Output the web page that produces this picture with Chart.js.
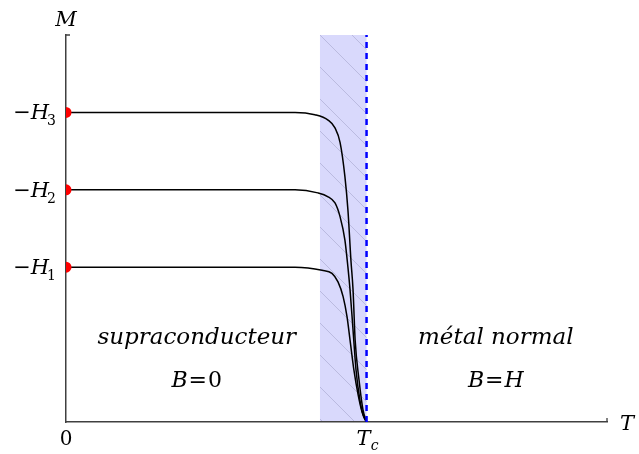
<!DOCTYPE html>
<html><head><meta charset="utf-8">
<script src="https://cdn.jsdelivr.net/npm/chart.js@4/dist/chart.umd.min.js"></script>
<style>html,body{margin:0;padding:0;background:#fff;overflow:hidden}</style>
</head><body>
<canvas id="c" width="639" height="454"></canvas>
<script>
// ---- data (T in units of Tc, M in arbitrary units) ----
const fieldLevels = [2, 3, 4];            // -H1, -H2, -H3
const fieldSubs = ['1', '2', '3'];
const T1 = [0, 0.762, 0.852, 0.885, 0.905, 0.922, 0.935, 0.945, 0.958, 0.972, 0.985, 1.0];
const M1 = [2, 2, 1.96, 1.92, 1.81, 1.62, 1.36, 1.06, 0.67, 0.35, 0.13, 0];
const T2 = [0, 0.762, 0.838, 0.872, 0.895, 0.912, 0.928, 0.938, 0.945, 0.955, 0.965, 0.978, 0.991, 1.0];
const M2 = [3, 3, 2.96, 2.91, 2.83, 2.65, 2.35, 2.0, 1.71, 1.19, 0.67, 0.28, 0.06, 0];
const T3 = [0, 0.762, 0.828, 0.872, 0.895, 0.912, 0.928, 0.938, 0.948, 0.955, 0.962, 0.975, 0.988, 1.0];
const M3 = [4, 4, 3.97, 3.90, 3.80, 3.61, 3.17, 2.74, 2.09, 1.71, 1.06, 0.54, 0.16, 0];
const Tc = 1.0;
const bandStart = 0.845;
const xRange = [0, 1.8];
const yRange = [0, 5];
const regionNames = ['supraconducteur', 'métal normal'];
const regionFields = [['B', '=', '0'], ['B', '=', 'H']];

const pts = (xs, ys) => xs.map((x, i) => ({x, y: ys[i]}));
const SERIF = '"DejaVu Serif", serif';

const bandPlugin = {
  id: 'band',
  beforeDraw(chart) {
    const {ctx, chartArea: a, scales: {x}} = chart;
    ctx.save();
    ctx.fillStyle = '#fff';
    ctx.fillRect(0, 0, chart.width, chart.height);
    const x0 = x.getPixelForValue(bandStart), x1 = x.getPixelForValue(Tc);
    ctx.fillStyle = '#d9d9fc';
    ctx.fillRect(x0, a.top, x1 - x0, a.bottom - a.top);
    ctx.beginPath();
    ctx.rect(x0, a.top, x1 - x0, a.bottom - a.top);
    ctx.clip();
    ctx.strokeStyle = 'rgba(120,120,160,0.4)';
    ctx.lineWidth = 0.8;
    for (let k = -20; k < 30; k++) {
      const yy = a.top + k * 32;
      ctx.beginPath();
      ctx.moveTo(x0, yy);
      ctx.lineTo(x0 + 400, yy + 400);
      ctx.stroke();
    }
    ctx.restore();
  },
  afterDraw(chart) {
    const {ctx, chartArea: a, scales: {x, y}} = chart;
    ctx.save();
    // axis end stubs
    ctx.strokeStyle = '#404040';
    ctx.lineWidth = 1.3;
    ctx.beginPath();
    ctx.moveTo(a.left, a.top); ctx.lineTo(a.left + 4, a.top);
    ctx.moveTo(a.right, a.bottom); ctx.lineTo(a.right, a.bottom - 4);
    ctx.stroke();
    ctx.fillStyle = '#000';
    ctx.textBaseline = 'alphabetic';
    // y tick labels -H_i
    fieldLevels.forEach((v, i) => {
      const py = y.getPixelForValue(v);
      const fMain = '21px ' + SERIF, fIt = 'italic 21px ' + SERIF, fSub = '14px ' + SERIF;
      ctx.font = fMain; const wm = ctx.measureText('\u2212').width;
      ctx.font = fIt; const wh = ctx.measureText('H').width;
      ctx.font = fSub; const ws = ctx.measureText(fieldSubs[i]).width;
      let sx = a.left - 10 - (wm + wh + ws - 2);
      const base = py + 7;
      ctx.font = fMain; ctx.textAlign = 'left'; ctx.fillText('\u2212', sx, base); sx += wm;
      ctx.font = fIt; ctx.fillText('H', sx, base); sx += wh - 2;
      ctx.font = fSub; ctx.fillText(fieldSubs[i], sx, base + 6);
    });
    // axis names
    ctx.font = 'italic 21px ' + SERIF;
    ctx.textAlign = 'center';
    ctx.fillText('M', a.left, a.top - 9);
    ctx.textAlign = 'left';
    ctx.fillText('T', a.right + 13, a.bottom + 8);
    // 0 and Tc
    ctx.textAlign = 'center';
    ctx.font = '20px ' + SERIF;
    ctx.fillText('0', x.getPixelForValue(0), a.bottom + 23);
    const tcx = x.getPixelForValue(Tc);
    ctx.font = 'italic 21px ' + SERIF;
    ctx.fillText('T', tcx - 3, a.bottom + 23);
    ctx.font = 'italic 14px ' + SERIF;
    ctx.fillText('c', tcx + 8, a.bottom + 28);
    // region labels
    const centers = [x.getPixelForValue(0.435), x.getPixelForValue(1.43)];
    centers.forEach((cx, i) => {
      ctx.font = 'italic 23px ' + SERIF;
      ctx.textAlign = 'center';
      ctx.fillText(regionNames[i], cx, y.getPixelForValue(1.1) + 7);
      const parts = regionFields[i];
      const fonts = ['italic 22px ' + SERIF, '22px ' + SERIF, (parts[2] === 'H' ? 'italic ' : '') + '22px ' + SERIF];
      const ws = parts.map((p, j) => { ctx.font = fonts[j]; return ctx.measureText(p).width; });
      const gap = 1;
      let sx = cx - (ws[0] + ws[1] + ws[2] + 2 * gap) / 2;
      const base = y.getPixelForValue(0.56) + 8;
      ctx.textAlign = 'left';
      parts.forEach((p, j) => { ctx.font = fonts[j]; ctx.fillText(p, sx, base); sx += ws[j] + gap; });
    });
    ctx.restore();
  }
};

new Chart(document.getElementById('c'), {
  type: 'line',
  data: {
    datasets: [
      { data: fieldLevels.map(v => ({x: 0, y: v})), showLine: false, pointRadius: 5.5,
        pointBackgroundColor: '#ff0000', pointBorderWidth: 0, borderColor: '#ff0000' },
      { data: [{x: Tc, y: yRange[0]}, {x: Tc, y: yRange[1]}], borderColor: '#0000ff',
        borderWidth: 2.5, borderDash: [6, 5], pointRadius: 0 },
      { data: pts(T1, M1), borderColor: '#000', borderWidth: 1.5, pointRadius: 0, cubicInterpolationMode: 'monotone' },
      { data: pts(T2, M2), borderColor: '#000', borderWidth: 1.5, pointRadius: 0, cubicInterpolationMode: 'monotone' },
      { data: pts(T3, M3), borderColor: '#000', borderWidth: 1.5, pointRadius: 0, cubicInterpolationMode: 'monotone' }
    ]
  },
  options: {
    responsive: false, animation: false, devicePixelRatio: 1,
    layout: { padding: { left: 66, right: 32, top: 35, bottom: 32 } },
    plugins: { legend: { display: false }, tooltip: { enabled: false } },
    scales: {
      x: { type: 'linear', min: xRange[0], max: xRange[1],
        grid: { display: false, drawTicks: false }, ticks: { display: false },
        border: { display: true, color: '#404040', width: 1.5 },
        afterFit(s) { s.height = 0; } },
      y: { type: 'linear', min: yRange[0], max: yRange[1],
        grid: { display: false, drawTicks: false }, ticks: { display: false },
        border: { display: true, color: '#404040', width: 1.5 },
        afterFit(s) { s.width = 0; } }
    }
  },
  plugins: [bandPlugin]
});
</script>
</body></html>
